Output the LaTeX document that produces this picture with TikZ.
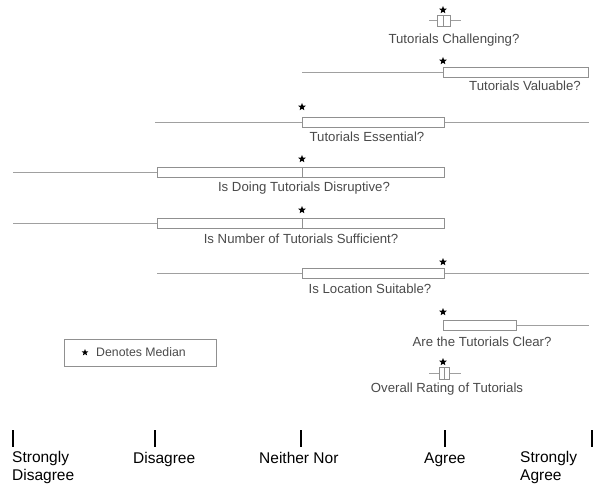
\documentclass[tikz,border=0pt]{standalone}
\usepackage{fontspec}
\setmainfont{Liberation Sans}
\usetikzlibrary{shapes.geometric}
\definecolor{whiskgray}{HTML}{A0A0A0}
\definecolor{boxgray}{HTML}{909090}
\definecolor{labgray}{HTML}{4A4A4A}
\tikzset{
  whisk/.style={draw=whiskgray, line width=0.9pt},
  bplot/.style={draw=boxgray, line width=0.9pt},
  medstar/.style={star, star points=5, star point ratio=2.3, fill=black, draw=none, minimum size=8pt, inner sep=0pt},
  qlab/.style={text=labgray, font=\fontsize{13.2}{15}\selectfont, inner sep=0pt},
  axtick/.style={draw=black, line width=1.6pt},
  axlab/.style={font=\fontsize{15.5}{17.5}\selectfont, align=left, inner sep=0pt, anchor=base west},
}
\begin{document}
\begin{tikzpicture}[x=1pt, y=-1pt]
\useasboundingbox (0,0) rectangle (594,484);

% Row 1: Tutorials Challenging?
\draw[whisk] (429,20) -- (461,20);
\draw[bplot, fill=white] (437,15) rectangle (450,26);
\draw[bplot] (443,15) -- (443,26);
\node[medstar] (s1) at (443,10) {};
\node[qlab] (l1) at (454,40) {Tutorials Challenging?};

% Row 2: Tutorials Valuable?
\draw[whisk] (302,72) -- (443,72);
\draw[bplot] (443,67) rectangle (588,77);
\node[medstar] (s2) at (443,61) {};
\node[qlab] (l2) at (525,86) {Tutorials Valuable?};

% Row 3: Tutorials Essential?
\draw[whisk] (155,122) -- (302,122);
\draw[whisk] (444,122) -- (589,122);
\draw[bplot] (302,117) rectangle (444,127);
\node[medstar] (s3) at (302,107) {};
\node[qlab] (l3) at (367,137) {Tutorials Essential?};

% Row 4: Is Doing Tutorials Disruptive?
\draw[whisk] (13,172) -- (157,172);
\draw[bplot] (157,167) rectangle (444,177);
\draw[bplot] (302,167) -- (302,177);
\node[medstar] (s4) at (302,159) {};
\node[qlab] (l4) at (304,188) {Is Doing Tutorials Disruptive?};

% Row 5: Is Number of Tutorials Sufficient?
\draw[whisk] (13,223) -- (157,223);
\draw[bplot] (157,218) rectangle (444,228);
\draw[bplot] (302,218) -- (302,228);
\node[medstar] (s5) at (302,210) {};
\node[qlab] (l5) at (301,239) {Is Number of Tutorials Sufficient?};

% Row 6: Is Location Suitable?
\draw[whisk] (157,273) -- (302,273);
\draw[whisk] (444,273) -- (589,273);
\draw[bplot] (302,268) rectangle (444,278);
\node[medstar] (s6) at (443,262) {};
\node[qlab] (l6) at (370,289) {Is Location Suitable?};

% Row 7: Are the Tutorials Clear?
\draw[whisk] (516,325) -- (589,325);
\draw[bplot] (443,320) rectangle (516,330);
\node[medstar] (s7) at (443,312) {};
\node[qlab] (l7) at (482,342) {Are the Tutorials Clear?};

% Row 8: Overall Rating of Tutorials
\draw[whisk] (429,373) -- (461,373);
\draw[bplot, fill=white] (439,367) rectangle (449,379);
\draw[bplot] (444,367) -- (444,379);
\node[medstar] (s8) at (443,362) {};
\node[qlab] (l8) at (447,389) {Overall Rating of Tutorials};

% Legend
\draw[bplot] (64,339) rectangle (216,366);
\node[medstar, minimum size=7pt] (ls) at (85,352.5) {};
\node[qlab, anchor=west, font=\fontsize{12.3}{14}\selectfont] (lt) at (96,352.5) {Denotes Median};

% Axis ticks and labels
\foreach \x/\n in {13/t1,155/t2,301/t3,445/t4,592/t5}{
  \draw[axtick] (\x,430) -- (\x,447);
}
\node[axlab] (a1) at (12,480) {Strongly\\Disagree};
\node[axlab] (a2) at (133,463) {Disagree};
\node[axlab] (a3) at (259,463) {Neither Nor};
\node[axlab] (a4) at (424,463) {Agree};
\node[axlab] (a5) at (520,480) {Strongly\\Agree};
\end{tikzpicture}
\end{document}
